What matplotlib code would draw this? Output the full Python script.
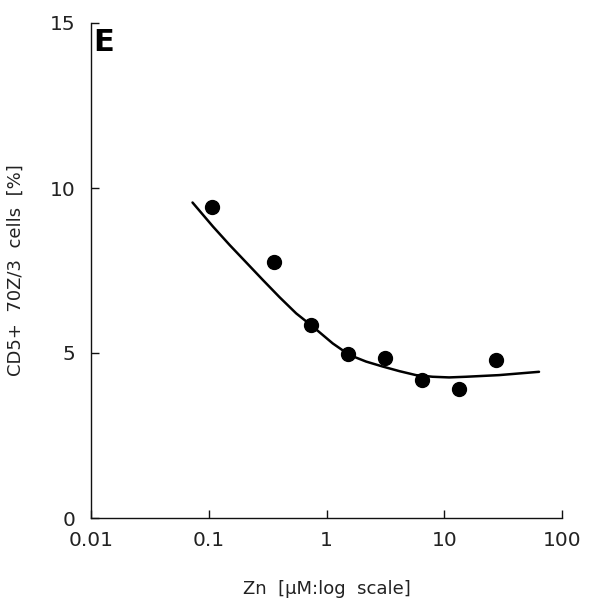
import matplotlib
matplotlib.use("Agg")
import matplotlib.pyplot as plt

# data
zn_points = [0.107, 0.356, 0.74, 1.52, 3.12, 6.5, 13.4, 27.4]
cells_points = [9.43, 7.75, 5.85, 4.96, 4.86, 4.18, 3.91, 4.79]

curve_x = [0.0728, 0.1087, 0.1507, 0.2086, 0.2886, 0.3996, 0.553, 0.765,
           1.13, 1.566, 2.17, 3.0, 4.16, 5.75, 7.96, 11.0, 15.3, 29.2, 63.8]
curve_y = [9.56, 8.83, 8.27, 7.74, 7.21, 6.69, 6.20, 5.80,
           5.29, 4.94, 4.74, 4.59, 4.45, 4.33, 4.28, 4.26, 4.28, 4.33, 4.43]

x_ticks = [0.01, 0.1, 1, 10, 100]
x_tick_labels = ["0.01", "0.1", "1", "10", "100"]
y_ticks = [0, 5, 10, 15]
y_tick_labels = ["0", "5", "10", "15"]

plt.rcParams['font.family'] = ['DejaVu Sans']

fig = plt.figure(figsize=(6.05, 6.03), dpi=100)
ax = fig.add_axes([91/605, 1-518/603, (562-91)/605, (518-23)/603])

ax.plot(curve_x, curve_y, color='black', lw=1.8, solid_capstyle='round',
        solid_joinstyle='round')
ax.plot(zn_points, cells_points, 'o', color='black', ms=10, mec='black')

ax.set_xscale('log')
ax.set_xlim(0.01, 100)
ax.set_ylim(0, 15)
ax.set_xticks(x_ticks)
ax.set_xticklabels(x_tick_labels)
ax.minorticks_off()
ax.set_yticks(y_ticks)
ax.set_yticklabels(y_tick_labels)

for s in ['top', 'right']:
    ax.spines[s].set_visible(False)
for s in ['left', 'bottom']:
    ax.spines[s].set_linewidth(1.0)
    ax.spines[s].set_color('#111111')

ax.tick_params(direction='in', length=6, width=1.0, color='#111111',
               labelsize=14.5, pad=9, labelcolor='#222222')
ax.tick_params(axis='y', pad=11)

ax.set_xlabel("Zn  [µM:log  scale]", fontsize=13, color='#222222', labelpad=22)
ax.set_ylabel("CD5+  70Z/3  cells  [%]", fontsize=13, color='#222222', labelpad=18)

ax.text(0.004, 0.99, "E", transform=ax.transAxes, fontsize=22,
        fontweight='bold', va='top', ha='left')

fig.savefig("out.png", dpi=100, facecolor='white')
